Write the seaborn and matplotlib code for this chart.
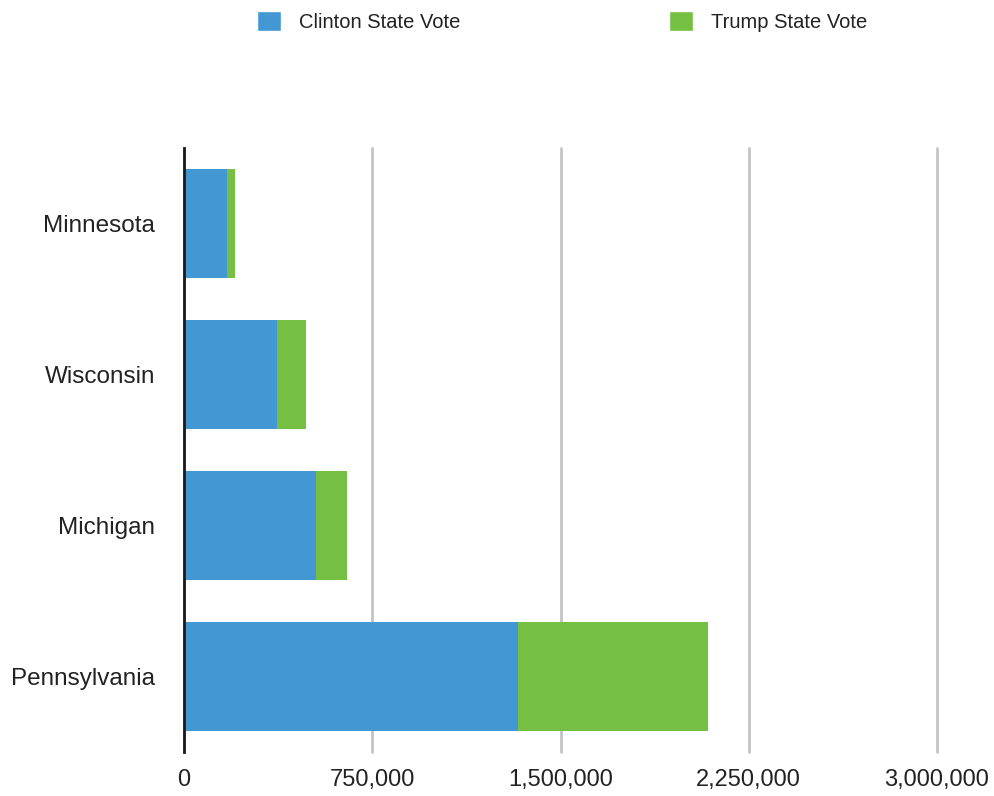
import matplotlib
matplotlib.use("Agg")
import matplotlib.pyplot as plt
from matplotlib.patches import Patch
import pandas as pd
import seaborn as sns

# vote counts
states = ["Minnesota", "Wisconsin", "Michigan", "Pennsylvania"]
clinton_votes = [172000, 371000, 527000, 1332000]
trump_votes = [30000, 116000, 122000, 754000]
x_ticks = [0, 750000, 1500000, 2250000, 3000000]

blue = "#4398d4"
green = "#75bf43"

df = pd.DataFrame({"state": states, "clinton": clinton_votes, "trump": trump_votes})
df["total"] = df["clinton"] + df["trump"]

sns.set_theme(style="white")
plt.rcParams["font.family"] = ["Liberation Sans", "DejaVu Sans"]

fig = plt.figure(figsize=(9.95, 7.96), dpi=100)
ax = fig.add_axes([0.185, 0.0553, 0.7567, 0.7588])

# stacked bars: total first (green), clinton on top (blue)
sns.barplot(data=df, y="state", x="total", color=green, width=0.72,
            orient="h", saturation=1, linewidth=0, ax=ax)
sns.barplot(data=df, y="state", x="clinton", color=blue, width=0.72,
            orient="h", saturation=1, linewidth=0, ax=ax)

ax.set_xlim(0, 3000000)
ax.set_ylim(3.5, -0.5)
ax.set_xticks(x_ticks)
ax.set_xticklabels([f"{v:,}" for v in x_ticks])
ax.set_xlabel("")
ax.set_ylabel("")

ax.xaxis.grid(True, color="#c4c4c4", lw=2, clip_on=False)
ax.yaxis.grid(False)
ax.set_axisbelow(True)
for s in ["top", "right", "bottom"]:
    ax.spines[s].set_visible(False)
ax.spines["left"].set_color("#1a1a1a")
ax.spines["left"].set_linewidth(2)
ax.spines["left"].set_zorder(5)

ax.tick_params(axis="x", length=0, pad=12, labelsize=17, labelcolor="#222222")
ax.tick_params(axis="y", length=0, pad=21, labelsize=17.5, labelcolor="#222222")

handles = [Patch(facecolor=blue, label="Clinton State Vote"),
           Patch(facecolor=green, label="Trump State Vote")]
fig.legend(handles=handles, loc="center", bbox_to_anchor=(0.565, 0.973), ncol=2,
           frameon=False, fontsize=14.5, handlelength=1.15, handleheight=1.15,
           handletextpad=0.9, columnspacing=10.4, labelcolor="#222222")

fig.savefig("out.png", dpi=100)
